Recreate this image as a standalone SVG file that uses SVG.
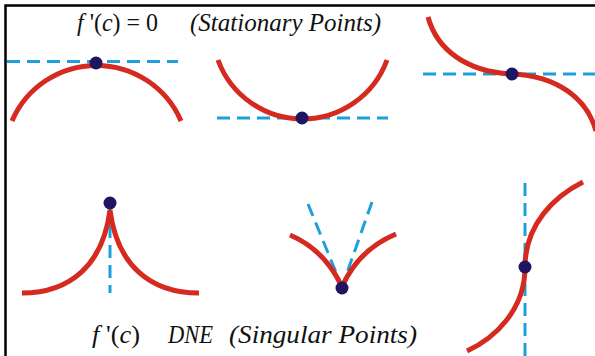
<svg xmlns="http://www.w3.org/2000/svg" width="595" height="356" viewBox="0 0 595 356">
<style>
.curve{fill:none;stroke:#d42a20;stroke-width:5;stroke-linecap:butt}
.tan{fill:none;stroke:#1ca0dc;stroke-width:3;stroke-dasharray:13 7}
.pt{fill:#1e1660}
.lbl{font-family:"Liberation Serif","Times New Roman",serif;font-size:25px;fill:#111}
.it{font-style:italic}
.frame{fill:none;stroke:#000;stroke-width:2.5}
</style>
<rect width="595" height="356" fill="#fff"/>
<path class="frame" d="M5.5,356 V5.5 H595"/>
<g id="title-top">
<text class="lbl" x="77" y="31" textLength="81" lengthAdjust="spacingAndGlyphs"><tspan class="it">f</tspan> '(<tspan class="it">c</tspan>) = 0</text>
<text class="lbl it" x="190" y="31" textLength="191" lengthAdjust="spacingAndGlyphs">(Stationary Points)</text>
</g>
<g id="maximum">
<line class="tan" x1="7" y1="61.5" x2="178" y2="61.5"/>
<path class="curve" d="M12,121 A92,92 0 0 1 181,121"/>
<circle class="pt" cx="96" cy="63" r="6.5"/>
</g>
<g id="minimum">
<line class="tan" x1="217" y1="118" x2="388" y2="118"/>
<path class="curve" d="M218,60 A90,90 0 0 0 387,60"/>
<circle class="pt" cx="302" cy="118" r="6.5"/>
</g>
<g id="inflection">
<line class="tan" x1="423" y1="74" x2="595" y2="74"/>
<path class="curve" d="M428,17 C437,50 467,72 512,74 C557,76 587,98 596,131"/>
<circle class="pt" cx="512" cy="74" r="6.5"/>
</g>
<g id="cusp-up">
<line class="tan" x1="110" y1="205" x2="110" y2="293"/>
<path class="curve" d="M22,293 C70,293 103,265 110,210 C117,265 150,293 199,293"/>
<circle class="pt" cx="110" cy="203" r="6.5"/>
</g>
<g id="cusp-down">
<line class="tan" x1="308" y1="204" x2="342" y2="287"/>
<line class="tan" x1="372" y1="202" x2="342" y2="287"/>
<path class="curve" d="M290,235 Q325,250 342,287 Q358,250 396,234"/>
<circle class="pt" cx="342" cy="288" r="6.5"/>
</g>
<g id="vertical-tangent">
<line class="tan" x1="525" y1="183" x2="525" y2="356"/>
<path class="curve" d="M467,351 C495,338 525,310 525,267 C525,224 555,196 583,182"/>
<circle class="pt" cx="525" cy="267" r="6.5"/>
</g>
<g id="title-bottom">
<text class="lbl" x="92" y="343" textLength="48" lengthAdjust="spacingAndGlyphs"><tspan class="it">f</tspan> '(<tspan class="it">c</tspan>)</text>
<text class="lbl it" x="168" y="343" textLength="45" lengthAdjust="spacingAndGlyphs">DNE</text>
<text class="lbl it" x="229" y="343" textLength="188" lengthAdjust="spacingAndGlyphs">(Singular Points)</text>
</g>
<g id="connectors"/>
</svg>
